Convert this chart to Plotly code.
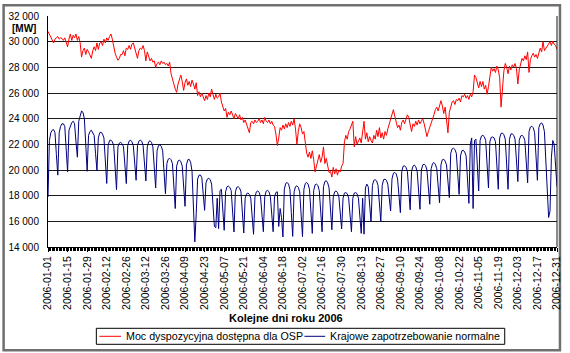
import pandas as pd
import plotly.graph_objects as go

# ---------------- data ----------------
dates = pd.date_range("2006-01-01", "2006-12-31", freq="D")

# Moc dyspozycyjna dostępna dla OSP [MW] (daily, Jan..Dec)
moc_dyspozycyjna = [
    # Jan
    30800, 30600, 30400, 30100, 29900, 30200, 30300, 30400, 30200, 30300,
    30250, 30100, 30300, 30000, 29600, 30200, 30600, 30100, 30500, 30300,
    30600, 30100, 30400, 29900, 28800, 29300, 29500, 29000, 29400, 29200, 28900,
    # Feb
    28700, 29300, 29600, 29300, 29900, 29400, 29900, 30000, 29700, 30200,
    29900, 30300, 30100, 30400, 30600, 30200, 29600, 29100, 28800, 28550,
    28700, 29000, 29000, 29300, 28900, 29500, 29400, 29700,
    # Mar
    29400, 29800, 29900, 29500, 29000, 28700, 29300, 29500, 29400, 29700,
    29300, 28500, 29200, 28900, 28500, 28700, 28400, 28500, 28000, 28300,
    28400, 28200, 28500, 28300, 28400, 28200, 28300, 28100, 28400, 27500, 27000,
    # Apr
    26700, 26300, 26050, 26700, 27100, 27400, 26900, 26200, 26800, 27100,
    26600, 26900, 26500, 27000, 26700, 26300, 26800, 25800, 26100, 25700,
    26000, 25600, 25400, 25800, 25500, 26000, 25700, 26300, 25900, 25500,
    # May
    25900, 25600, 25700, 26000, 25300, 24900, 24600, 24800, 24100, 24500,
    24300, 24600, 24200, 24000, 24400, 24200, 24000, 24300, 23900, 24100,
    23700, 23900, 23500, 23300, 22900, 23700, 23800, 23600, 23900, 23700, 23800,
    # Jun
    24000, 23700, 23900, 23600, 24100, 23800, 23700, 23900, 23600, 23800,
    23500, 23400, 22800, 21900, 22500, 23300, 23100, 23500, 23200, 23600,
    23300, 23700, 23400, 23800, 23500, 24000, 23200, 22000, 23000, 23600,
    # Jul
    23300, 22800, 23000, 22300, 21300, 21000, 21400, 20900, 21500, 20800,
    19850, 20300, 20700, 21200, 20600, 21000, 21800, 20500, 20900, 20200,
    19800, 19900, 19450, 20200, 19700, 20100, 19600, 20000, 19850, 20300, 20500,
    # Aug
    22200, 22700, 22400, 23000, 23200, 23500, 23800, 21800, 22600, 22000,
    22300, 22500, 22100, 23000, 23800, 22400, 22900, 22200, 22600, 22300,
    22100, 22700, 22400, 23100, 22600, 23300, 22500, 22900, 22400, 23000, 22700,
    # Sep
    23200, 23600, 23900, 24300, 24700, 24200, 23700, 23300, 23500, 23100,
    23700, 23900, 23600, 24000, 24300, 24100, 23400, 23000, 23600, 23400,
    23800, 23500, 23900, 23600, 23800, 24000, 23600, 23200, 22600, 23000,
    # Oct
    23300, 23700, 24000, 24300, 24700, 24900, 24600, 25100, 25400, 25000,
    24400, 24900, 23800, 22900, 24500, 24900, 25300, 25400, 25100, 25500,
    25400, 25600, 25300, 25800, 25700, 25900, 25600, 25800, 25500, 25900, 25700,
    # Nov
    26100, 27400, 27200, 26700, 26400, 26900, 26500, 26900, 26300, 26600,
    25900, 26500, 27300, 28000, 27700, 27900, 27600, 28100, 27800, 27200,
    24900, 26600, 27700, 28300, 28000, 27500, 28100, 27800, 28200, 28000,
    # Dec
    28300, 27900, 26700, 27800, 28400, 28700, 28500, 28900, 28600, 29200,
    27600, 28600, 28900, 29100, 28800, 29000, 28700, 29200, 29500, 29200,
    30000, 29300, 29500, 29600, 29900, 30000, 29700, 30050, 29800, 29700, 29400,
]

# Krajowe zapotrzebowanie normalne [MW] (daily; rows = weeks Mon..Sun)
zapotrzebowanie = [
    17900,
    22300, 22900, 23100, 23150, 22900, 21200, 19600,
    22900, 23400, 23600, 23600, 23400, 21600, 19850,
    23100, 23500, 23700, 23800, 23600, 22200, 21000,
    23800, 24300, 24600, 24500, 24000, 22000, 19900,
    22700, 23000, 23100, 22900, 22700, 21300, 19950,
    22500, 22900, 22950, 22800, 22500, 20600, 18950,
    21900, 22300, 22330, 22200, 21900, 20200, 18470,
    21800, 22100, 22150, 22050, 21800, 20300, 18940,
    21900, 22250, 22330, 22200, 21900, 20500, 19200,
    21900, 22250, 22330, 22250, 21900, 20500, 19150,
    21800, 22200, 22280, 22150, 21800, 20200, 18600,
    21500, 21900, 21950, 21850, 21500, 19900, 18150,
    20500, 20850, 20910, 20800, 20500, 18800, 17000,
    20300, 20700, 20780, 20650, 20300, 18800, 17170,
    20400, 20800, 20830, 20600, 19900, 17600, 14400,
    16600, 19300, 19600, 19610, 19400, 17900, 16860,
    19000, 19300, 19350, 19250, 18900, 17300, 15600,
    15500, 17800, 15430, 18400, 18500, 17000, 15300,
    18300, 18700, 18750, 18650, 18400, 16800, 15170,
    18300, 18650, 18700, 18600, 18300, 16700, 15090,
    17800, 18150, 18210, 18100, 17800, 16300, 14990,
    17900, 18300, 18370, 18250, 17900, 16500, 15190,
    17900, 18350, 18420, 18300, 17950, 16500, 15190,
    17900, 18250, 18300, 15600, 17000, 16300, 14780,
    18500, 18950, 19030, 18900, 18500, 16700, 14830,
    18300, 18700, 18770, 18650, 18300, 16600, 14800,
    18500, 18950, 19030, 18900, 18500, 16800, 15060,
    18400, 18850, 18900, 18800, 18400, 16900, 15190,
    18700, 19100, 19160, 19000, 18600, 17000, 15340,
    17900, 18300, 18370, 18250, 17900, 16600, 15400,
    17800, 18200, 18240, 18150, 17800, 16500, 15190,
    17800, 18200, 18240, 18150, 17800, 16500, 15060,
    17800, 15000, 18600, 18900, 18700, 17300, 15950,
    18800, 19200, 19240, 19150, 18800, 17400, 16000,
    18800, 19250, 19290, 19200, 18900, 17900, 16810,
    19300, 19750, 19810, 19700, 19300, 18000, 16680,
    19900, 20300, 20330, 20200, 19900, 18300, 16900,
    19900, 20300, 20380, 20250, 19900, 18400, 16940,
    20000, 20400, 20450, 20350, 20000, 18600, 17330,
    20100, 20500, 20580, 20450, 20100, 18800, 17450,
    20400, 20800, 20840, 20700, 20400, 19000, 17850,
    21300, 21650, 21700, 21600, 21300, 19700, 18100,
    21100, 21500, 21540, 21400, 21100, 19600, 17400,
    22000, 22500, 17000, 22300, 22400, 20500, 18370,
    22300, 22650, 22700, 22600, 22300, 19800, 18600,
    22200, 22550, 22570, 22500, 22200, 20700, 18500,
    22500, 22850, 22880, 22750, 22400, 20800, 18500,
    22400, 22800, 22830, 22700, 22400, 20900, 19100,
    22300, 22650, 22700, 22600, 22300, 20800, 19000,
    23000, 23350, 23410, 23300, 22900, 21100, 19200,
    23300, 23600, 23670, 23500, 23000, 20500, 17500,
    16300, 16800, 21000, 22300, 22000, 20300, 18700,
]

y_ticks = [14000, 16000, 18000, 20000, 22000, 24000, 26000, 28000, 30000, 32000]
y_tick_text = ["14 000", "16 000", "18 000", "20 000", "22 000", "24 000",
               "26 000", "28 000", "30 000", "32 000"]
x_tick_dates = pd.date_range("2006-01-01", "2006-12-31", freq="14D")
x_tick_text = [d.strftime("%Y-%m-%d") for d in x_tick_dates]

series_names = ["Moc dyspozycyjna dostępna dla OSP", "Krajowe zapotrzebowanie normalne"]
series_colors = ["#FF0000", "#000080"]
x_title = "Kolejne dni roku 2006"
y_unit = "[MW]"

assert len(moc_dyspozycyjna) == len(dates)
assert len(zapotrzebowanie) == len(dates)

# ---------------- figure ----------------
W, H = 570, 353
L, R, T, B = 46, 562, 15.7, 246.7


def px(p):   # pixel x -> paper x
    return (p - L) / (R - L)


def py(p):   # pixel y -> paper y
    return (B - p) / (B - T)


fig = go.Figure()
fig.add_trace(go.Scatter(x=dates, y=moc_dyspozycyjna, mode="lines", name=series_names[0],
                         line=dict(color=series_colors[0], width=1)))
fig.add_trace(go.Scatter(x=dates, y=zapotrzebowanie, mode="lines", name=series_names[1],
                         line=dict(color=series_colors[1], width=1)))

font_family = "Liberation Sans, Arial, sans-serif"

# legend drawn as a framed box under the axis title
leg_y = 336
legend_items = [
    dict(x0=98, x1=120, tx=123),
    dict(x0=306, x1=327, tx=330),
]
shapes = [
    dict(type="rect", xref="paper", yref="paper",
         x0=px(1), x1=px(565), y0=py(350), y1=py(5),
         line=dict(color="#707070", width=2.5), fillcolor="rgba(0,0,0,0)", layer="below"),
    dict(type="line", xref="paper", yref="paper", x0=1, x1=1, y0=0, y1=1,
         line=dict(color="#1a1a1a", width=1)),
    dict(type="rect", xref="paper", yref="paper",
         x0=px(95), x1=px(509), y0=py(leg_y + 8), y1=py(leg_y - 8),
         line=dict(color="black", width=1), fillcolor="white"),
]
annotations = [
    dict(text="<b>%s</b>" % y_unit, xref="paper", yref="paper",
         x=px(21.5), y=py(28), showarrow=False, font=dict(size=10, family=font_family),
         xanchor="center", yanchor="middle"),
    dict(text="<b>%s</b>" % x_title, xref="paper", yref="paper",
         x=px(287.5), y=py(318), showarrow=False, font=dict(size=11, family=font_family),
         xanchor="center", yanchor="middle"),
]
for item, name, color in zip(legend_items, series_names, series_colors):
    shapes.append(dict(type="line", xref="paper", yref="paper",
                       x0=px(item["x0"]), x1=px(item["x1"]), y0=py(leg_y), y1=py(leg_y),
                       line=dict(color=color, width=1)))
    annotations.append(dict(text=name, xref="paper", yref="paper",
                            x=px(item["tx"]), y=py(leg_y), showarrow=False,
                            font=dict(size=10.7, family=font_family, color="black"),
                            xanchor="left", yanchor="middle"))

fig.update_layout(
    width=W, height=H,
    margin=dict(l=L, r=W - R, t=T, b=H - B, pad=0),
    paper_bgcolor="white", plot_bgcolor="white",
    font=dict(family=font_family, size=10, color="black"),
    showlegend=False,
    xaxis=dict(
        type="date",
        range=[dates[0], dates[-1]],
        tickvals=list(x_tick_dates), ticktext=x_tick_text,
        tickangle=-90, tickfont=dict(size=10.5, family=font_family),
        ticks="outside", ticklen=4, tickcolor="black",
        minor=dict(dtick=86400000, ticks="outside", ticklen=3, tickcolor="black", showgrid=False),
        showline=True, linecolor="black", linewidth=1,
        showgrid=False, zeroline=False,
    ),
    yaxis=dict(
        range=[14000, 32000],
        tickvals=y_ticks, ticktext=y_tick_text,
        tickfont=dict(size=10, family=font_family),
        ticks="outside", ticklen=6, tickcolor="rgba(0,0,0,0)",
        showline=True, linecolor="black", linewidth=1,
        showgrid=True, gridcolor="#1a1a1a", gridwidth=1,
        zeroline=False,
    ),
    annotations=annotations,
    shapes=shapes,
)

fig.write_html("out.html")
